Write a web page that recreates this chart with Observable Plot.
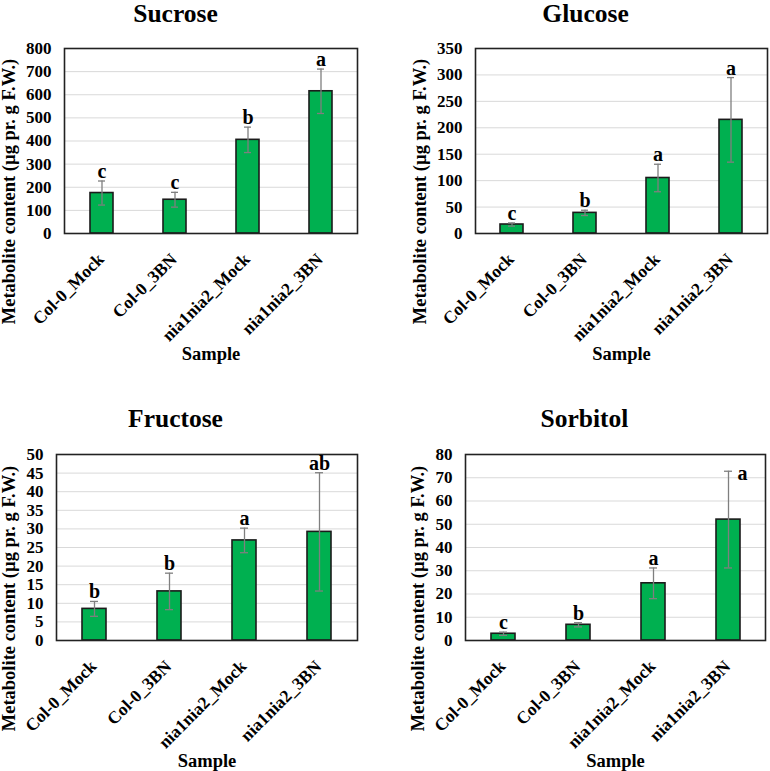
<!DOCTYPE html>
<html><head><meta charset="utf-8">
<script src="https://cdn.jsdelivr.net/npm/d3@7"></script>
<script src="https://cdn.jsdelivr.net/npm/@observablehq/plot@0.6"></script>
<style>
body{margin:0;background:#fff;}
#wrap{position:relative;width:770px;height:771px;overflow:hidden;background:#fff;}
.panel{position:absolute;width:385px;height:385px;}
.panel svg{overflow:visible;}
</style></head><body><div id="wrap"></div>
<script>
// ---- data ----
const samples = ["Col-0_Mock", "Col-0_3BN", "nia1nia2_Mock", "nia1nia2_3BN"];

const sucroseMean = [175, 146, 405, 615];
const sucroseErr = [52, 32, 55, 96];
const sucroseLetters = ["c", "c", "b", "a"];
const sucroseTicks = [0, 100, 200, 300, 400, 500, 600, 700, 800];

const glucoseMean = [17, 39, 105, 215];
const glucoseErr = [3, 5, 26, 80];
const glucoseLetters = ["c", "b", "a", "a"];
const glucoseTicks = [0, 50, 100, 150, 200, 250, 300, 350];

const fructoseMean = [8.5, 13.2, 26.9, 29.2];
const fructoseErr = [2.0, 4.9, 3.3, 15.9];
const fructoseLetters = ["b", "b", "a", "ab"];
const fructoseTicks = [0, 5, 10, 15, 20, 25, 30, 35, 40, 45, 50];

const sorbitolMean = [2.9, 6.75, 24.6, 52];
const sorbitolErr = [0.7, 0.9, 6.6, 20.8];
const sorbitolLetters = ["c", "b", "a", "a"];
const sorbitolTicks = [0, 10, 20, 30, 40, 50, 60, 70, 80];

const titles = ["Sucrose", "Glucose", "Fructose", "Sorbitol"];
const yLabel = "Metabolite content (µg pr. g F.W.)";
const xLabel = "Sample";

// ---- layout (positions in px, per panel) ----
const panels = [
  {title: titles[0], mean: sucroseMean, err: sucroseErr, letters: sucroseLetters, ticks: sucroseTicks,
   left: 0, top: 0, ml: 64, mr: 28, mt: 48, mb: 152, titleX: 175, titleY: 21, ylX: 14, ylY: 191, xlY: 359, side: -1},
  {title: titles[1], mean: glucoseMean, err: glucoseErr, letters: glucoseLetters, ticks: glucoseTicks,
   left: 385, top: 0, ml: 90, mr: 3, mt: 48, mb: 152, titleX: 200, titleY: 21, ylX: 40, ylY: 191, xlY: 359, side: -1},
  {title: titles[2], mean: fructoseMean, err: fructoseErr, letters: fructoseLetters, ticks: fructoseTicks,
   left: 0, top: 385, ml: 56, mr: 28, mt: 69, mb: 130, titleX: 175, titleY: 41, ylX: 14, ylY: 213, xlY: 381, side: -1},
  {title: titles[3], mean: sorbitolMean, err: sorbitolErr, letters: sorbitolLetters, ticks: sorbitolTicks,
   left: 385, top: 385, ml: 80, mr: 5, mt: 69, mb: 130, titleX: 199, titleY: 41, ylX: 38, ylY: 213, xlY: 381, side: 3}
];

const FONT = "'Liberation Serif', 'Times New Roman', Times, serif";
const W = 385, H = 385;

function makePanel(p) {
  const data = samples.map((s, i) => ({
    sample: s, mean: p.mean[i], lo: p.mean[i] - p.err[i], hi: p.mean[i] + p.err[i],
    letter: p.letters[i], i
  }));
  const max = p.ticks[p.ticks.length - 1];
  const frameCX = (p.ml + (W - p.mr)) / 2;
  const frameCY = (p.mt + (H - p.mb)) / 2;
  const normal = data.filter(d => d.i !== p.side);
  const side = data.filter(d => d.i === p.side);
  return Plot.plot({
    width: W, height: H,
    marginLeft: p.ml, marginRight: p.mr, marginTop: p.mt, marginBottom: p.mb,
    style: {fontFamily: FONT, fontWeight: "bold", color: "#000", background: "transparent", overflow: "visible"},
    x: {domain: samples, paddingInner: 0.685, paddingOuter: 0.3425, align: 0.5},
    y: {domain: [0, max]},
    marks: [
      Plot.gridY(p.ticks, {stroke: "#d9d9d9", strokeOpacity: 1, strokeWidth: 1}),
      Plot.barY(data, {x: "sample", y: "mean", fill: "#00b050", stroke: "#1b1b1b", strokeWidth: 1.6}),
      Plot.ruleX(data, {x: "sample", y1: "lo", y2: "hi", stroke: "#7f7f7f", strokeWidth: 1.3}),
      Plot.tickY(data, {x: "sample", y: "hi", stroke: "#7f7f7f", strokeWidth: 1.3, insetLeft: 8, insetRight: 8}),
      Plot.tickY(data, {x: "sample", y: "lo", stroke: "#7f7f7f", strokeWidth: 1.3, insetLeft: 8, insetRight: 8}),
      Plot.frame({stroke: "#222", strokeWidth: 1.6}),
      Plot.axisY(p.ticks, {tickSize: 0, tickPadding: 13, fontSize: 17, fontWeight: "bold", label: null}),
      Plot.axisX({ticks: [], tickSize: 0, label: null}),
      Plot.text(samples, {x: d => d, text: d => d, frameAnchor: "bottom", rotate: -45, textAnchor: "end", lineAnchor: "middle", dx: -1, dy: 23, fontSize: 17.5, fontWeight: "bold", fill: "#000"}),
      Plot.text(normal, {x: "sample", y: "hi", text: "letter", dy: -3, lineAnchor: "bottom", fontSize: 20, fontWeight: "bold", fill: "#000"}),
      Plot.text(side, {x: "sample", y: "hi", text: "letter", dx: 14, dy: 9, lineAnchor: "bottom", fontSize: 20, fontWeight: "bold", fill: "#000"}),
      Plot.text([p.title], {text: d => d, frameAnchor: "top", dx: p.titleX - frameCX, dy: p.titleY - p.mt, lineAnchor: "bottom", fontSize: 25.5, fontWeight: "bold", fill: "#000"}),
      Plot.text([yLabel], {text: d => d, frameAnchor: "left", rotate: -90, dx: p.ylX - p.ml, dy: p.ylY - frameCY, lineAnchor: "bottom", textAnchor: "middle", fontSize: 18.5, fontWeight: "bold", fill: "#000"}),
      Plot.text([xLabel], {text: d => d, frameAnchor: "bottom", dy: p.xlY - (H - p.mb), lineAnchor: "bottom", fontSize: 18.5, fontWeight: "bold", fill: "#000"})
    ]
  });
}

const wrap = document.getElementById("wrap");
for (const p of panels) {
  const div = document.createElement("div");
  div.className = "panel";
  div.style.left = p.left + "px";
  div.style.top = p.top + "px";
  div.appendChild(makePanel(p));
  wrap.appendChild(div);
}
</script>
</body></html>
